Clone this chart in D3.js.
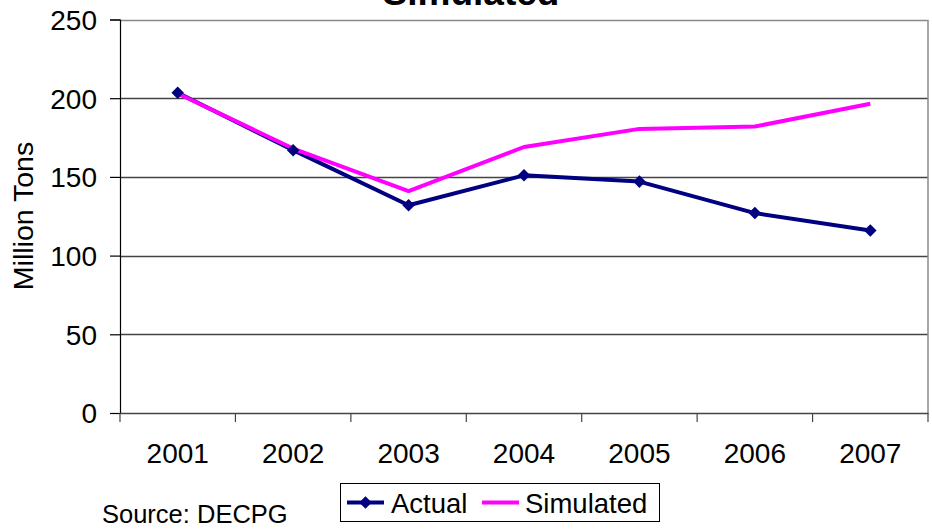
<!DOCTYPE html>
<html>
<head>
<meta charset="utf-8">
<script src="https://cdn.jsdelivr.net/npm/d3@7"></script>
<style>
  html, body { margin: 0; padding: 0; background: #fff; }
  svg { display: block; font-family: "Liberation Sans", Arial, sans-serif; }
</style>
</head>
<body>
<svg id="chart" width="932" height="529"></svg>
<script>
const years = ["2001", "2002", "2003", "2004", "2005", "2006", "2007"];
const actual = [203.5, 167, 132, 151, 147, 127, 116];
const simulated = [203, 168, 141, 169, 180.5, 182, 196.5];
const yTicks = [0, 50, 100, 150, 200, 250];
const titleText = "Simulated";
const yTitle = "Million Tons";
const sourceText = "Source: DECPG";
const seriesNames = ["Actual", "Simulated"];

const svg = d3.select("#chart");
const pLeft = 120, pRight = 928, pTop = 19.5, pBottom = 413;

const x = d3.scaleBand().domain(years).range([pLeft, pRight]).paddingInner(0).paddingOuter(0);
const y = d3.scaleLinear().domain([0, 250]).range([pBottom, pTop]);

// gridlines
svg.append("g").selectAll("line").data(yTicks.filter(d => d > 0 && d < 250)).join("line")
  .attr("x1", pLeft).attr("x2", pRight)
  .attr("y1", d => Math.round(y(d)) + 0.5).attr("y2", d => Math.round(y(d)) + 0.5)
  .attr("stroke", "#444").attr("stroke-width", 1.3);

// plot border top/right
svg.append("path")
  .attr("d", `M${pLeft},${Math.round(pTop)+0.5}H${pRight}V${pBottom}`)
  .attr("fill", "none").attr("stroke", "#8a8a8a").attr("stroke-width", 1.5);

// y axis
const yAxis = d3.axisLeft(y).tickValues(yTicks).tickSize(10).tickPadding(13);
const gy = svg.append("g").attr("transform", `translate(${pLeft},0)`).call(yAxis);
gy.select(".domain").attr("stroke", "#000").attr("stroke-width", 1.2);
gy.selectAll(".tick line").attr("stroke", "#000").attr("stroke-width", 1.2);
gy.selectAll(".tick text").attr("font-size", "28px").attr("fill", "#000")
  .attr("font-family", "Liberation Sans, Arial, sans-serif").attr("dy", "0.35em");

// x axis
const xAxis = d3.axisBottom(x).tickSize(0).tickPadding(0);
const gx = svg.append("g").attr("transform", `translate(0,${pBottom})`).call(xAxis);
gx.select(".domain").attr("stroke", "#444").attr("stroke-width", 1.5);
gx.selectAll(".tick text").attr("font-size", "28px").attr("fill", "#000")
  .attr("font-family", "Liberation Sans, Arial, sans-serif").attr("dy", null).attr("y", 50);
// x tick marks at category boundaries
const bounds = years.map(d => x(d)).concat([x(years[years.length-1]) + x.bandwidth()]);
svg.append("g").selectAll("line").data(bounds).join("line")
  .attr("x1", d => d).attr("x2", d => d)
  .attr("y1", pBottom).attr("y2", pBottom + 9)
  .attr("stroke", "#444").attr("stroke-width", 1.2);

const cx = d => x(d) + x.bandwidth() / 2;

// lines
const line = d3.line().x(d => cx(d[0])).y(d => y(d[1]));
svg.append("path").datum(years.map((d, i) => [d, actual[i]]))
  .attr("d", line).attr("fill", "none").attr("stroke", "#000080").attr("stroke-width", 4).attr("stroke-linejoin", "round");
svg.append("path").datum(years.map((d, i) => [d, simulated[i]]))
  .attr("d", line).attr("fill", "none").attr("stroke", "#FF00FF").attr("stroke-width", 4).attr("stroke-linejoin", "round");

// markers
const diamond = d3.symbol().type(d3.symbolDiamond2).size(100);
svg.append("g").selectAll("path").data(years.map((d, i) => [d, actual[i]])).join("path")
  .attr("d", diamond)
  .attr("transform", d => `translate(${cx(d[0])},${y(d[1])})`)
  .attr("fill", "#000080");

// title (cut off at the top edge, as in the reference)
svg.append("text").attr("x", 471).attr("y", 5).attr("text-anchor", "middle")
  .attr("font-size", "37px").attr("font-weight", "bold").text(titleText);

// y title
svg.append("text").attr("transform", "translate(33,216) rotate(-90)")
  .attr("text-anchor", "middle").attr("font-size", "28.5px").text(yTitle);

// source
svg.append("text").attr("x", 102).attr("y", 523).attr("font-size", "25.5px").text(sourceText);

// legend
const lg = svg.append("g");
lg.append("rect").attr("x", 340.5).attr("y", 483.5).attr("width", 319).attr("height", 38)
  .attr("fill", "#fff").attr("stroke", "#000").attr("stroke-width", 1);
const legendItems = [
  {name: seriesNames[0], color: "#000080", marker: true, x0: 347, tx: 391},
  {name: seriesNames[1], color: "#FF00FF", marker: false, x0: 482, tx: 525}
];
legendItems.forEach(it => {
  lg.append("line").attr("x1", it.x0).attr("x2", it.x0 + 37).attr("y1", 502.5).attr("y2", 502.5)
    .attr("stroke", it.color).attr("stroke-width", 4);
  if (it.marker) lg.append("path").attr("d", diamond).attr("transform", `translate(${it.x0 + 18.5},502.5)`).attr("fill", it.color);
  lg.append("text").attr("x", it.tx).attr("y", 513).attr("font-size", "27.5px").text(it.name);
});
</script>
</body>
</html>
